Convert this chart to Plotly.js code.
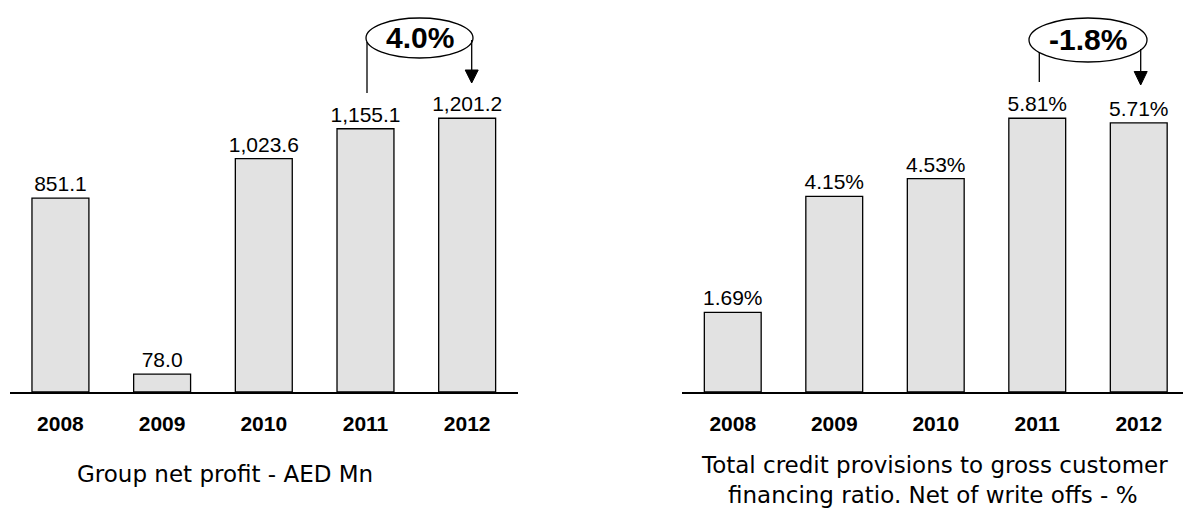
<!DOCTYPE html>
<html><head><meta charset="utf-8">
<script src="https://cdn.plot.ly/plotly-3.0.1.min.js"></script>
<style>html,body{margin:0;padding:0;background:#fff}</style>
</head><body><div id="chart" style="width:1183px;height:508px"></div>
<script>
const years = ['2008', '2009', '2010', '2011', '2012'];
const netProfit = [851.1, 78.0, 1023.6, 1155.1, 1201.2];
const provisionRatio = [1.69, 4.15, 4.53, 5.81, 5.71];
const profitChange = '4.0%';
const ratioChange = '-1.8%';
const profitTitle = 'Group net profit - AED Mn';
const ratioTitleLines = ['Total credit provisions to gross customer', 'financing ratio. Net of write offs - %'];

const W = 1183, H = 508;
const fx = x => x / W;
const fy = y => (H - y) / H;

const barStyle = {color: '#e2e2e2', line: {color: '#000', width: 1.3}};
const sansFam = '"Liberation Sans", Arial, sans-serif';
const valFont = {family: sansFam, size: 21, color: '#000'};

const traces = [
  {type: 'bar', x: years, y: netProfit, xaxis: 'x', yaxis: 'y', width: 0.56,
   marker: barStyle, texttemplate: '%{y:,.1f}', textposition: 'outside',
   constraintext: 'none', cliponaxis: false, textfont: valFont, hoverinfo: 'skip'},
  {type: 'bar', x: years, y: provisionRatio, xaxis: 'x2', yaxis: 'y2', width: 0.56,
   marker: barStyle, texttemplate: '%{y:.2f}%', textposition: 'outside',
   constraintext: 'none', cliponaxis: false, textfont: valFont, hoverinfo: 'skip'}
];

const tickFont = {family: sansFam, size: 21, color: '#000', weight: 700};
const xBase = {type: 'category', showline: true, linecolor: '#000', linewidth: 1.5,
  ticks: 'outside', ticklen: 12, tickcolor: 'rgba(0,0,0,0)', tickfont: tickFont,
  showgrid: false, zeroline: false, fixedrange: true};
const yBase = {visible: false, showgrid: false, zeroline: false, domain: [116 / H, 1], fixedrange: true};

function lineShape(x, y0, y1) {
  return {type: 'line', xref: 'paper', yref: 'paper', x0: fx(x), x1: fx(x), y0: fy(y0), y1: fy(y1),
          line: {color: '#000', width: 1.3}};
}
function ellipse(x0, x1, y0, y1) {
  return {type: 'circle', xref: 'paper', yref: 'paper', x0: fx(x0), x1: fx(x1), y0: fy(y1), y1: fy(y0),
          line: {color: '#000', width: 1.3}, fillcolor: 'rgba(255,255,255,0)'};
}
function arrowHead(x, yTop, yTip, half) {
  return {type: 'path', xref: 'paper', yref: 'paper',
          path: `M ${fx(x - half)} ${fy(yTop)} L ${fx(x + half)} ${fy(yTop)} L ${fx(x)} ${fy(yTip)} Z`,
          fillcolor: '#000', line: {color: '#000', width: 1}};
}

const shapes = [
  ellipse(366, 473, 18, 58),
  lineShape(367, 42, 93),
  lineShape(471.7, 40, 71),
  arrowHead(471.7, 70, 83, 6.5),
  ellipse(1029, 1147, 18, 62),
  lineShape(1039.3, 52, 82),
  lineShape(1140.7, 49, 72),
  arrowHead(1140.7, 71.5, 85, 6.5)
];

const subFont = {family: 'DejaVu Sans, sans-serif', size: 23, color: '#000'};
const bigFont = {family: sansFam, size: 30, color: '#000', weight: 700};
const annotations = [
  {xref: 'paper', yref: 'paper', x: fx(419.5), y: fy(38), text: profitChange, showarrow: false,
   font: bigFont, xanchor: 'center', yanchor: 'middle'},
  {xref: 'paper', yref: 'paper', x: fx(1088), y: fy(40), text: ratioChange, showarrow: false,
   font: bigFont, xanchor: 'center', yanchor: 'middle'},
  {xref: 'paper', yref: 'paper', x: fx(225), y: fy(474), text: profitTitle, showarrow: false,
   font: subFont, xanchor: 'center', yanchor: 'middle'},
  {xref: 'paper', yref: 'paper', x: fx(934), y: fy(465), text: ratioTitleLines[0], showarrow: false,
   font: subFont, xanchor: 'center', yanchor: 'middle'},
  {xref: 'paper', yref: 'paper', x: fx(933), y: fy(495), text: ratioTitleLines[1], showarrow: false,
   font: subFont, xanchor: 'center', yanchor: 'middle'}
];

const layout = {
  width: W, height: H, margin: {l: 0, r: 0, t: 0, b: 0, pad: 0},
  paper_bgcolor: '#fff', plot_bgcolor: 'rgba(0,0,0,0)', showlegend: false,
  xaxis: Object.assign({}, xBase, {domain: [9.6 / W, 518 / W], range: [-0.5, 4.5], anchor: 'y'}),
  yaxis: Object.assign({}, yBase, {range: [0, 1720], anchor: 'x'}),
  xaxis2: Object.assign({}, xBase, {domain: [682 / W, 1], range: [-0.5, 4.436], anchor: 'y2'}),
  yaxis2: Object.assign({}, yBase, {range: [0, 8.32], anchor: 'x2'}),
  shapes: shapes, annotations: annotations
};

Plotly.newPlot('chart', traces, layout, {displayModeBar: false, staticPlot: true});
</script></body></html>
